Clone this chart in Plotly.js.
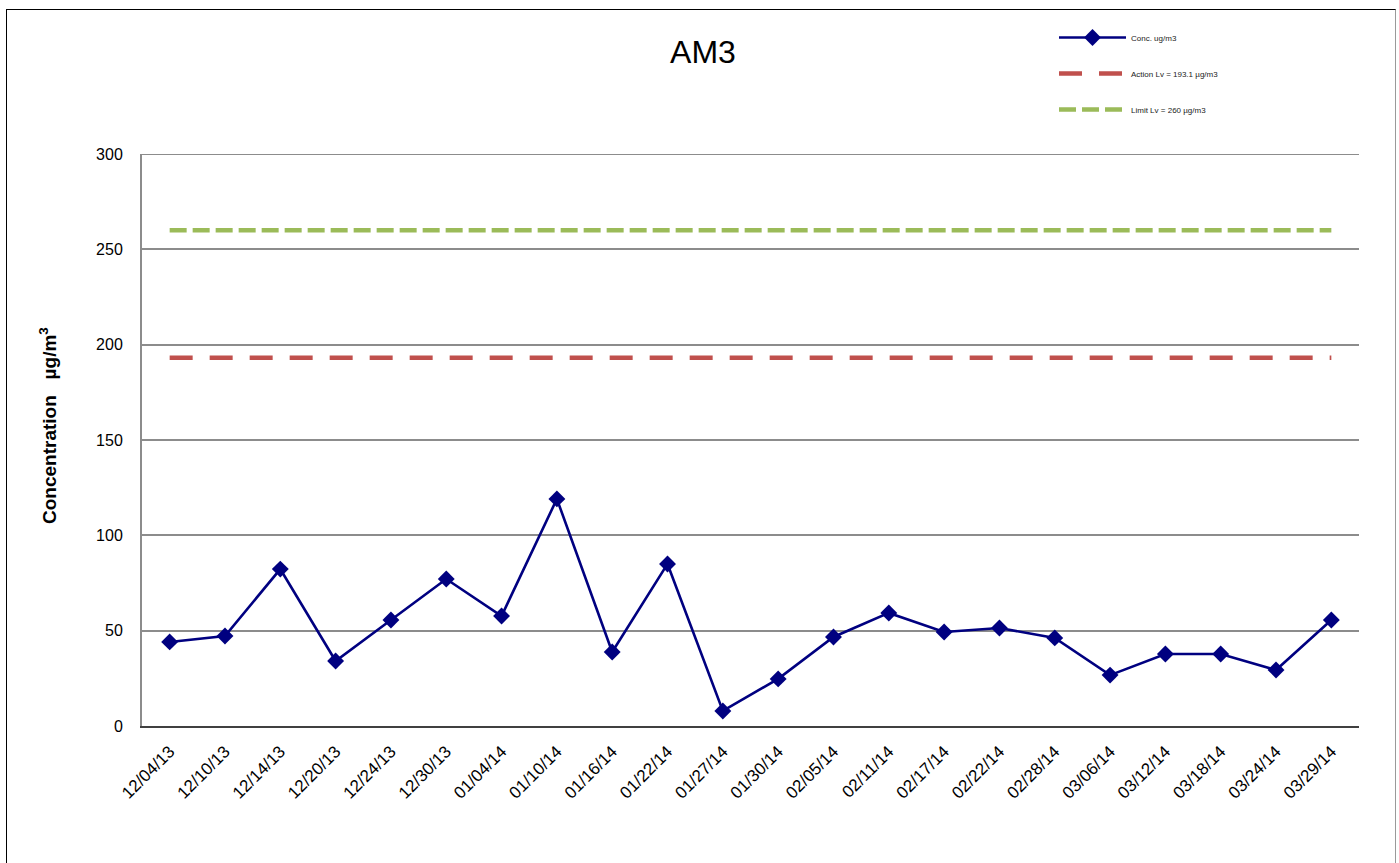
<!DOCTYPE html>
<html>
<head>
<meta charset="utf-8">
<script src="https://cdn.plot.ly/plotly-3.0.1.min.js"></script>
<style>
  html, body { margin: 0; padding: 0; background: #fff; overflow: hidden; }
  #chart { position: absolute; left: 0; top: 0; width: 1399px; height: 863px; }
  #frame { position: absolute; left: 6px; top: 9px; width: 1388px; height: 900px;
           border: 1px solid #000; border-right-color: #9a9a9a; pointer-events: none; }
</style>
</head>
<body>
<div id="chart"></div>
<div id="frame"></div>
<script>
const dates = ["12/04/13","12/10/13","12/14/13","12/20/13","12/24/13","12/30/13","01/04/14","01/10/14",
               "01/16/14","01/22/14","01/27/14","01/30/14","02/05/14","02/11/14","02/17/14","02/22/14",
               "02/28/14","03/06/14","03/12/14","03/18/14","03/24/14","03/29/14"];
const concentration = [44.1, 47.2, 82.3, 34.1, 55.6, 77.1, 57.7, 119.1, 38.8, 85.0, 7.9, 24.7,
                       46.7, 59.3, 49.3, 51.4, 46.2, 26.7, 37.8, 37.8, 29.4, 55.6];
const actionLevel = 193.1;
const limitLevel = 260;
const yTicks = [0, 50, 100, 150, 200, 250, 300];

const font = "Arial, 'Liberation Sans', sans-serif";

const traces = [
  {
    x: dates, y: concentration, type: "scatter", mode: "lines+markers",
    name: "Conc. ug/m3", legendgroup: "a",
    line: { color: "#000080", width: 2.6 },
    marker: { symbol: "diamond", size: 13, color: "#000080" }
  },
  {
    x: dates, y: dates.map(() => actionLevel), type: "scatter", mode: "lines",
    name: "Action Lv = 193.1 µg/m3", legendgroup: "b",
    line: { color: "#C0504D", width: 4.5, dash: "23px,17px" }
  },
  {
    x: dates, y: dates.map(() => limitLevel), type: "scatter", mode: "lines",
    name: "Limit Lv = 260 µg/m3", legendgroup: "c",
    line: { color: "#9BBB59", width: 4.5, dash: "17px,6px" }
  }
];

const yTop = yTicks[yTicks.length - 1];

const layout = {
  width: 1399, height: 863,
  paper_bgcolor: "#fff", plot_bgcolor: "#fff",
  margin: { l: 142, r: 40, t: 154, b: 137, autoexpand: false },
  font: { family: font, color: "#000" },
  title: {
    text: "AM3", font: { family: font, size: 32, color: "#000" },
    x: 703 / 1399, xref: "container", xanchor: "center",
    y: 1 - 52 / 863, yref: "container", yanchor: "middle"
  },
  xaxis: {
    type: "category", range: [-0.5, dates.length - 0.5],
    tickangle: -45, tickfont: { family: font, size: 17, color: "#000" },
    showgrid: false, showline: true, linecolor: "#404040", linewidth: 2,
    ticks: "", ticklabelstandoff: 7, zeroline: false
  },
  yaxis: {
    range: [0, yTop], tickvals: yTicks, ticktext: yTicks.map(String),
    tickfont: { family: font, size: 16, color: "#000" },
    showgrid: true, gridcolor: "#8c8c8c", gridwidth: 2,
    showline: true, linecolor: "#8c8c8c", linewidth: 2,
    ticks: "", ticklabelstandoff: 14, zeroline: false
  },
  annotations: [
    { text: "<b>Concentration&nbsp;&nbsp;&nbsp;µg/m<sup>3</sup></b>", textangle: -90,
      xref: "paper", x: (48 - 142) / 1217, yref: "paper", y: (726 - 426) / 572,
      xanchor: "center", yanchor: "middle", showarrow: false,
      font: { family: font, size: 19, color: "#000" } }
  ],
  shapes: [
    { type: "line", xref: "paper", x0: 0, x1: 1, yref: "y", y0: yTop, y1: yTop,
      line: { color: "#8c8c8c", width: 2 }, layer: "below" }
  ],
  showlegend: true,
  legend: {
    x: 1054 / 1399, xref: "container", xanchor: "left",
    y: 1 - 23 / 863, yref: "container", yanchor: "top",
    font: { family: font, size: 8, color: "#222" },
    itemwidth: 67, tracegroupgap: 17, bgcolor: "rgba(0,0,0,0)",
    traceorder: "grouped"
  }
};

Plotly.newPlot("chart", traces, layout, { displayModeBar: false, staticPlot: true });
</script>
</body>
</html>
